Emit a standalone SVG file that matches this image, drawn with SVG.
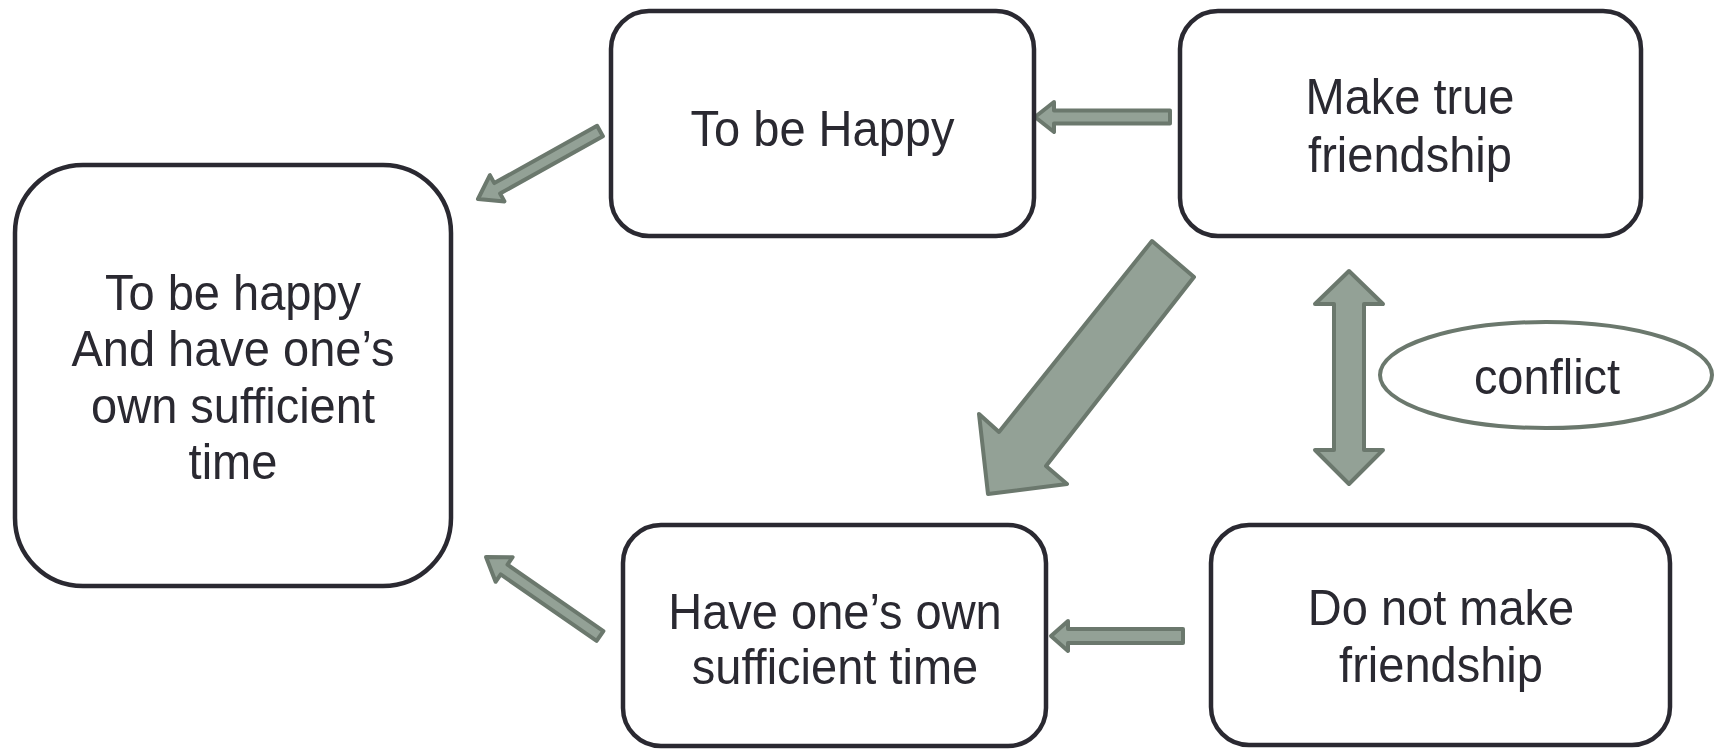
<svg xmlns="http://www.w3.org/2000/svg" width="1725" height="751" viewBox="0 0 1725 751">
  <style>
    .box { fill: #ffffff; stroke: #2a2931; stroke-width: 4.5; }
    .lbl { font-family: "Liberation Sans", Arial, sans-serif; font-size: 50px; fill: #2a2931; text-anchor: middle;
           transform-box: fill-box; transform-origin: center; transform: scaleX(0.94); }
    .arr { fill: #93a196; stroke: #6b786d; stroke-width: 4; stroke-linejoin: round; }
    .oval { fill: #ffffff; stroke: #6b786d; stroke-width: 4; }
  </style>
  <rect width="1725" height="751" fill="#ffffff"/>

  <!-- connectors -->
  <g id="connectors">
    <polygon class="arr" points="597.1,125.8 494.3,183.1 489.9,175.2 478,199 504.5,201.4 500.1,193.5 602.9,136.2"/>
    <polygon class="arr" points="1170,110.5 1054,110.5 1054,102 1035,117 1054,132 1054,123.5 1170,123.5"/>
    <polygon class="arr" points="603.4,631.1 507.5,564.6 512.6,557.2 486,557 495.6,581.8 500.7,574.4 596.6,640.9"/>
    <polygon class="arr" points="1183,629 1068,629 1068,621 1051,636 1068,651 1068,643 1183,643"/>
    <polygon class="arr" points="1152,241 1194,277 1046,466 1067,484 988,494 979,414 999,432"/>
    <polygon class="arr" points="1349,271 1383,304 1364,304 1364,450 1383,450 1349,484 1315,450 1334,450 1334,304 1315,304"/>
  </g>

  <g id="node-goal">
    <rect class="box" x="15" y="165" width="436" height="421" rx="68" ry="68"/>
    <text class="lbl" x="233" y="310">To be happy</text>
    <text class="lbl" x="233" y="366.5">And have one’s</text>
    <text class="lbl" x="233" y="423">own sufficient</text>
    <text class="lbl" x="233" y="479.5">time</text>
  </g>

  <g id="node-happy">
    <rect class="box" x="611" y="11" width="423" height="225" rx="38" ry="38"/>
    <text class="lbl" x="822.5" y="146">To be Happy</text>
  </g>

  <g id="node-friendship">
    <rect class="box" x="1180" y="11" width="461" height="225" rx="38" ry="38"/>
    <text class="lbl" x="1410" y="114">Make true</text>
    <text class="lbl" x="1410" y="172">friendship</text>
  </g>

  <g id="node-time">
    <rect class="box" x="623" y="525" width="423" height="221" rx="38" ry="38"/>
    <text class="lbl" x="835" y="629">Have one’s own</text>
    <text class="lbl" x="835" y="684">sufficient time</text>
  </g>

  <g id="node-no-friendship">
    <rect class="box" x="1211" y="525" width="459" height="220" rx="38" ry="38"/>
    <text class="lbl" x="1441" y="625">Do not make</text>
    <text class="lbl" x="1441" y="682">friendship</text>
  </g>

  <g id="node-conflict">
    <ellipse class="oval" cx="1546" cy="375" rx="166" ry="53"/>
    <text class="lbl" x="1547" y="394">conflict</text>
  </g>
</svg>
